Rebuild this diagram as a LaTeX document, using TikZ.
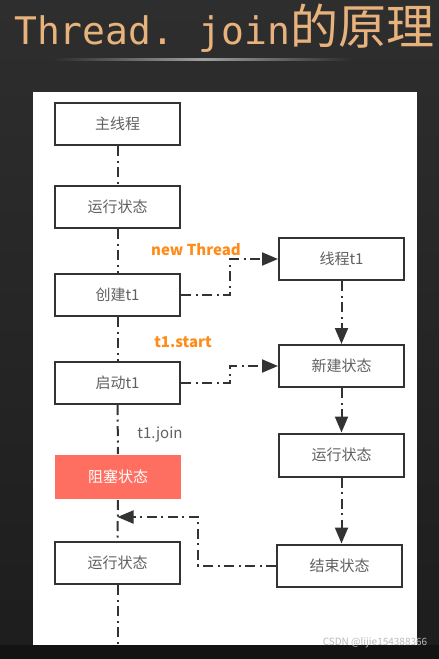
\documentclass[tikz,border=0pt]{standalone}
\usepackage{fontspec}
\setmainfont{Noto Sans CJK SC}
\newfontfamily\titlemono{DejaVu Sans Mono}
\usetikzlibrary{arrows.meta,calc,positioning}
\definecolor{BgTop}{HTML}{2E2E2E}
\definecolor{BgBot}{HTML}{1D1D1D}
\definecolor{BgFoot}{HTML}{131313}
\definecolor{TitleTan}{HTML}{E8B27D}
\definecolor{InkDark}{HTML}{333333}
\definecolor{InkSoft}{HTML}{616161}
\definecolor{BlockRed}{HTML}{FF6F61}
\definecolor{CallOrange}{HTML}{FF8C1A}
\tikzset{
  box/.style={draw=InkDark, line width=2pt, fill=white, minimum width=125pt,
              minimum height=42pt, inner sep=0pt, text=InkSoft,
              font=\fontsize{15}{18}\selectfont},
  flow/.style={line width=2pt, draw=InkDark,
               dash pattern=on 10pt off 4.5pt on 2pt off 4.5pt},
  call/.style={font=\fontsize{15}{18}\selectfont\bfseries, text=CallOrange},
}

\begin{document}
\begin{tikzpicture}[
  x=1pt, y=-1pt,
  tip/.style={-{Triangle[length=16pt, width=13pt]}},
  note/.style={font=\fontsize{15}{18}\selectfont, text=InkSoft},
]
\useasboundingbox (0,0) rectangle (439,659);
% ---------- slide background
\shade[top color=BgTop, bottom color=BgBot] (0,0) rectangle (439,659);
\fill[BgFoot] (0,645) rectangle (439,659);
\node[anchor=base west, text=TitleTan, inner sep=0pt] (title) at (14,44)
  {{\titlemono\fontsize{38}{42}\selectfont Thread.\kern-6pt{} join}{\fontsize{48}{52}\selectfont 的原理}};
\shade[left color=BgTop, right color=BgTop, middle color=gray!75] (55,58.5) rectangle (350,60);
\fill[white] (33,92) rectangle (417,645);
% ---------- main thread
\node[box] (main) at (117.5,124) {主线程};
\node[box] (run1) at (117.5,207) {运行状态};
\node[box] (create) at (117.5,295) {创建t1};
\node[box] (start) at (117.5,383) {启动t1};
\node[box, draw=none, fill=BlockRed, text=white, minimum width=126pt, minimum height=44pt] (block) at (118,477) {阻塞状态};
\node[box] (run2) at (117.5,563) {运行状态};
\coordinate (foot) at (117.5,645);
\coordinate (jn) at (117.5,517);
\draw[flow] (main.south) -- (run1.north);
\draw[flow] (run1.south) -- (create.north);
\draw[flow] (create.south) -- (start.north);
\draw[flow] (start.south) -- (block.north);
\draw[flow] (block.south) -- (run2.north);
\draw[flow] (run2.south) -- (foot);
% ---------- thread t1
\node[box] (t1) at (341.5,259) {线程t1};
\node[box] (new) at (341.5,366) {新建状态};
\node[box, minimum height=43pt] (run3) at (341.5,455) {运行状态};
\node[box] (finish) at (339.5,565.5) {结束状态};
\draw[flow, tip] (t1.south) -- (new.north);
\draw[flow, tip] (new.south) -- (run3.north);
\draw[flow, tip] (run3.south) -- (run3.south |- finish.north);
% ---------- calls between threads
\draw[flow, tip] (create.east) -- ++(49,0) |- (t1.west);
\draw[flow, tip] (start.east) -- ++(49,0) |- (new.west);
\draw[flow, tip] (finish.west) -- ++(-78,0) |- (jn);
\node[call] (newcall) at (196,250) {new Thread};
\node[call] (startcall) at (183,342) {t1.start};
\node[note] (joincall) at (160,434) {t1.join};
\node[font=\fontsize{10}{12}\selectfont, text=gray!55] (mark) at (375,643) {CSDN @lijie154388366};
\end{tikzpicture}
\end{document}
